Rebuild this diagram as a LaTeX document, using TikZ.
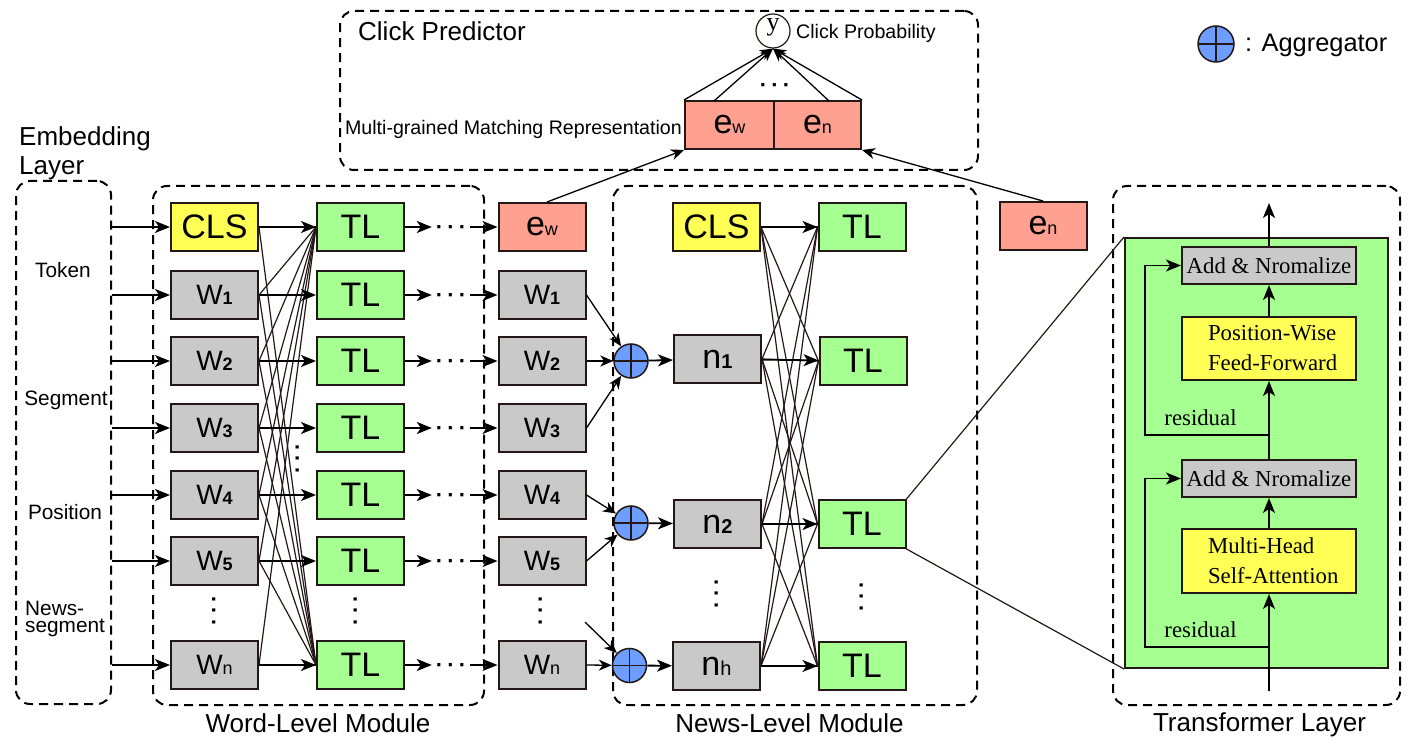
\documentclass[tikz,border=0pt]{standalone}
\usepackage{fontspec}
\setmainfont{Liberation Sans}
\newfontfamily\serifface{Liberation Serif}
\definecolor{linedark}{HTML}{231815}
\definecolor{clsyellow}{HTML}{FFFF55}
\definecolor{tlgreen}{HTML}{A5FF91}
\definecolor{wordgray}{HTML}{C8C9C8}
\definecolor{embsalmon}{HTML}{FFA091}
\definecolor{aggblue}{HTML}{6D9EFF}
\usetikzlibrary{arrows.meta}
\newcommand{\sz}[1]{\fontsize{#1}{#1}\selectfont}
\newcommand{\wnum}[1]{{\sz{18}\bfseries #1}}
\newcommand{\wsub}[1]{{\sz{18}#1}}
\newcommand{\onedot}{\makebox[11.5pt]{\smash{\raisebox{-7.7pt}{\bfseries\sz{22}\textperiodcentered}}}}
\newcommand{\dotrow}{\onedot\onedot\onedot}
\begin{document}
\begin{tikzpicture}[
      x=1pt,
      y=-1pt,
      font=\sz{19.6},
      cell/.style={
        draw=linedark, line width=2pt, minimum width=87pt,
        minimum height=48pt, inner sep=0pt
      },
      clsbox/.style={cell, fill=clsyellow, font=\sz{34}},
      tlbox/.style={cell, fill=tlgreen, font=\sz{34}},
      wordbox/.style={cell, fill=wordgray, font=\sz{28}},
      newsbox/.style={cell, fill=wordgray, font=\sz{34}},
      embbox/.style={cell, fill=embsalmon, font=\sz{34}},
      module/.style={
        draw, line width=2pt, dash pattern=on 9pt off 6pt,
        rounded corners=14pt, inner sep=0pt
      },
      aggregator/.style={
        circle, draw=linedark, line width=1.5pt, fill=aggblue,
        minimum size=34pt, inner sep=0pt,
        path picture={
          \draw[linedark, line width=1.5pt]
            (path picture bounding box.north) -- (path picture bounding box.south)
            (path picture bounding box.west) -- (path picture bounding box.east);
        }
      },
      layerbox/.style={
        draw=linedark, line width=2pt, minimum width=174pt, inner sep=0pt,
        font=\serifface\sz{22.8}
      },
      hdots/.style={minimum width=38pt, minimum height=14pt, inner sep=0pt},
      vdotsnode/.style={rotate=90, minimum width=36pt, minimum height=14pt, inner sep=0pt},
      caption/.style={font=\sz{26}, inner sep=0pt},
      side/.style={font=\sz{20.8}, inner sep=0pt},
      arrow/.style={-{Stealth[length=15pt,width=12pt,inset=4pt]}, line width=1.8pt},
      smallarrow/.style={-{Stealth[length=13pt,width=11pt,inset=4pt]}, line width=1.3pt},
      fan/.style={linedark, line width=1.2pt}
    ]
    \useasboundingbox (0,0) rectangle (1414,743);

    \node[module, minimum width=95pt, minimum height=523pt] (embmod) at (63.5,442.5) {};
    \node[module, minimum width=331pt, minimum height=519pt] (wordmod) at (318.5,445.5) {};
    \node[module, minimum width=364pt, minimum height=519pt] (newsmod) at (795,445.5) {};
    \node[module, minimum width=638pt, minimum height=159pt] (clickmod) at (659,90.5) {};
    \node[module, minimum width=287pt, minimum height=519pt] (transmod) at (1256.5,445.5) {};

    \node[font=\sz{26}, align=left, anchor=west, inner sep=0pt] (embtitle) at (19,153)
      {Embedding\\[3pt]Layer};
    \node[side] (token) at (63,270) {Token};
    \node[side] (segment) at (66,400) {Segment};
    \node[side] (position) at (65,512) {Position};
    \node[side, align=left, anchor=west] (newsseg) at (25,619) {News-\\[-3pt]segment};

    \node[clsbox] (c0) at (214.5,227) {CLS};
    \node[clsbox] (nc) at (716.5,227) {CLS};
    \node[embbox] (ew) at (542,227) {e\wsub{w}};
    \node[embbox] (en) at (1043,226) {e\wsub{n}};

    \foreach \i/\sub/\y in {1/\wnum{1}/295,2/\wnum{2}/361,3/\wnum{3}/428,4/\wnum{4}/495,5/\wnum{5}/561,6/\wsub{n}/665}{
      \node[wordbox] (w\i) at (214.5,\y) {W\sub};
      \node[wordbox] (v\i) at (542,\y) {W\sub};
    }
    \foreach \i/\y in {0/227,1/295,2/361,3/428,4/495,5/561,6/665}{
      \node[tlbox] (t\i) at (360.5,\y) {TL};
      \node[hdots] (d\i) at (451,\y) {\dotrow};
    }

    \node[newsbox] (n1) at (717.5,359) {n{\sz{20}\bfseries 1}};
    \node[newsbox] (n2) at (717.5,524) {n{\sz{20}\bfseries 2}};
    \node[newsbox] (n3) at (716.5,666) {n{\sz{20}h}};
    \node[tlbox] (u0) at (862,227) {TL};
    \node[tlbox] (u1) at (863,361) {TL};
    \node[tlbox] (u2) at (862,524) {TL};
    \node[tlbox] (u3) at (862,666) {TL};

    \node[aggregator] (ag1) at (631,361) {};
    \node[aggregator] (ag2) at (631,523) {};
    \node[aggregator] (ag3) at (629.5,665.5) {};

    \node[vdotsnode] (dw) at (213.5,610) {\dotrow};
    \node[vdotsnode] (dt) at (355,610) {\dotrow};
    \node[vdotsnode] (dm) at (297,458) {\dotrow};
    \node[vdotsnode] (dv) at (540,610) {\dotrow};
    \node[vdotsnode] (dn) at (716,593) {\dotrow};
    \node[vdotsnode] (du) at (861,596) {\dotrow};

    \foreach \a in {c0,w1,w2,w3,w4,w5,w6}{
      \draw[fan] (\a.east) -- (t0.west);
      \draw[fan] (\a.east) -- (t6.west);
    }
    \foreach \a in {nc,n1,n2,n3}
      \foreach \b in {u0,u1,u2,u3}
        \draw[fan] (\a.east) -- (\b.west);

    \foreach \a in {c0,w1,w2,w3,w4,w5,w6}
      \draw[arrow] (embmod.east |- \a.west) -- (\a.west);
    \draw[arrow] (c0) -- (t0);
    \foreach \i in {1,...,6}
      \draw[arrow] (w\i) -- (t\i);
    \foreach \i in {0,...,6}
      \draw[arrow] (t\i) -- (d\i);
    \draw[arrow] (d0) -- (ew);
    \foreach \i in {1,...,6}
      \draw[arrow] (d\i) -- (v\i);

    \foreach \a/\b in {v1/ag1,v2/ag1,v3/ag1,v4/ag2,v5/ag2,v6/ag3}
      \draw[smallarrow] (\a.east) -- (\b);
    \coordinate (vfree) at (585,622);
    \draw[smallarrow] (vfree) -- (ag3);
    \foreach \a/\b in {ag1/n1,ag2/n2,ag3/n3}
      \draw[arrow] (\a) -- (\b);
    \draw[arrow] (nc) -- (u0);
    \foreach \a/\b in {n1/u1,n2/u2,n3/u3}
      \draw[arrow] (\a) -- (\b);

    \node[embbox, minimum width=89pt] (ewtop) at (729.5,125) {e\wsub{w}};
    \node[embbox, minimum width=87pt] (entop) at (817.5,125) {e\wsub{n}};
    \node[circle, draw=linedark, line width=1.2pt, minimum size=34pt, inner sep=0pt,
          text height=0pt, text depth=0pt,
          font=\serifface\sz{26}] (yout) at (773,31) {y};
    \node[anchor=west, inner sep=0pt] (clickprob) at (796,33.5) {Click Probability};
    \node[anchor=west, inner sep=0pt, font=\sz{26}] (clicktitle) at (358,31) {Click Predictor};
    \node[anchor=east, inner sep=0pt] (multi) at (682,129.5) {Multi-grained Matching Representation};
    \node[hdots] (dtop) at (775,85) {\dotrow};
    \coordinate (cleft) at (714,101);
    \coordinate (cright) at (829,101);
    \draw[smallarrow] (ewtop.north west) -- (yout.south);
    \draw[smallarrow] (cleft) -- (yout.south);
    \draw[smallarrow] (cright) -- (yout.south);
    \draw[smallarrow] (entop.north east) -- (yout.south);
    \draw[smallarrow] ([xshift=5pt]ew.north) -- (ewtop.south west);
    \draw[smallarrow] (en.north) -- (entop.south east);

    \node[draw=linedark, line width=2pt, fill=tlgreen, minimum width=263pt,
          minimum height=430pt, inner sep=0pt] (green) at (1256.5,453) {};
    \draw[fan] (u2.north east) -- (green.north west);
    \draw[fan] (u2.south east) -- (green.south west);
    \node[layerbox, fill=wordgray, minimum height=37pt] (add1) at (1269,265.5) {Add \& Nromalize};
    \node[layerbox, fill=clsyellow, minimum height=63pt, align=left, text width=174pt,
          execute at begin node={\baselineskip=30pt}] (pwff) at (1269,348.5)
      {\hspace*{26pt}Position-Wise\\\hspace*{26pt}Feed-Forward};
    \node[layerbox, fill=wordgray, minimum height=37pt] (add2) at (1269,478.5) {Add \& Nromalize};
    \node[layerbox, fill=clsyellow, minimum height=64pt, align=left, text width=174pt,
          execute at begin node={\baselineskip=30pt}] (mhsa) at (1269,561)
      {\hspace*{26pt}Multi-Head\\\hspace*{26pt}Self-Attention};
    \node[font=\serifface\sz{22.8}, inner sep=0pt] (res1) at (1200.5,418) {residual};
    \node[font=\serifface\sz{22.8}, inner sep=0pt] (res2) at (1200.5,630) {residual};

    \coordinate (tin) at (1269,691);
    \coordinate (tout) at (1269,203);
    \coordinate (tap1) at (1269,647);
    \coordinate (tap2) at (1269,435);
    \coordinate (bend1) at (1145,647);
    \coordinate (bend2) at (1145,435);
    \draw[arrow] (tin) -- (mhsa);
    \draw[arrow] (mhsa) -- (add2);
    \draw[arrow] (add2) -- (pwff);
    \draw[arrow] (pwff) -- (add1);
    \draw[arrow] (add1) -- (tout);
    \draw[arrow] (tap1) -- (bend1) |- (add2.west);
    \draw[arrow] (tap2) -- (bend2) |- (add1.west);

    \node[aggregator, minimum size=36pt] (legend) at (1216,44) {};
    \node[anchor=west, inner sep=0pt, font=\sz{25.4}] (legendtext) at (1245,45) {: Aggregator};

    \node[caption] (wordcap) at (318,723) {Word-Level Module};
    \node[caption] (newscap) at (789.5,723) {News-Level Module};
    \node[caption] (transcap) at (1259.5,724.5) {Transformer Layer};
\end{tikzpicture}
\end{document}
